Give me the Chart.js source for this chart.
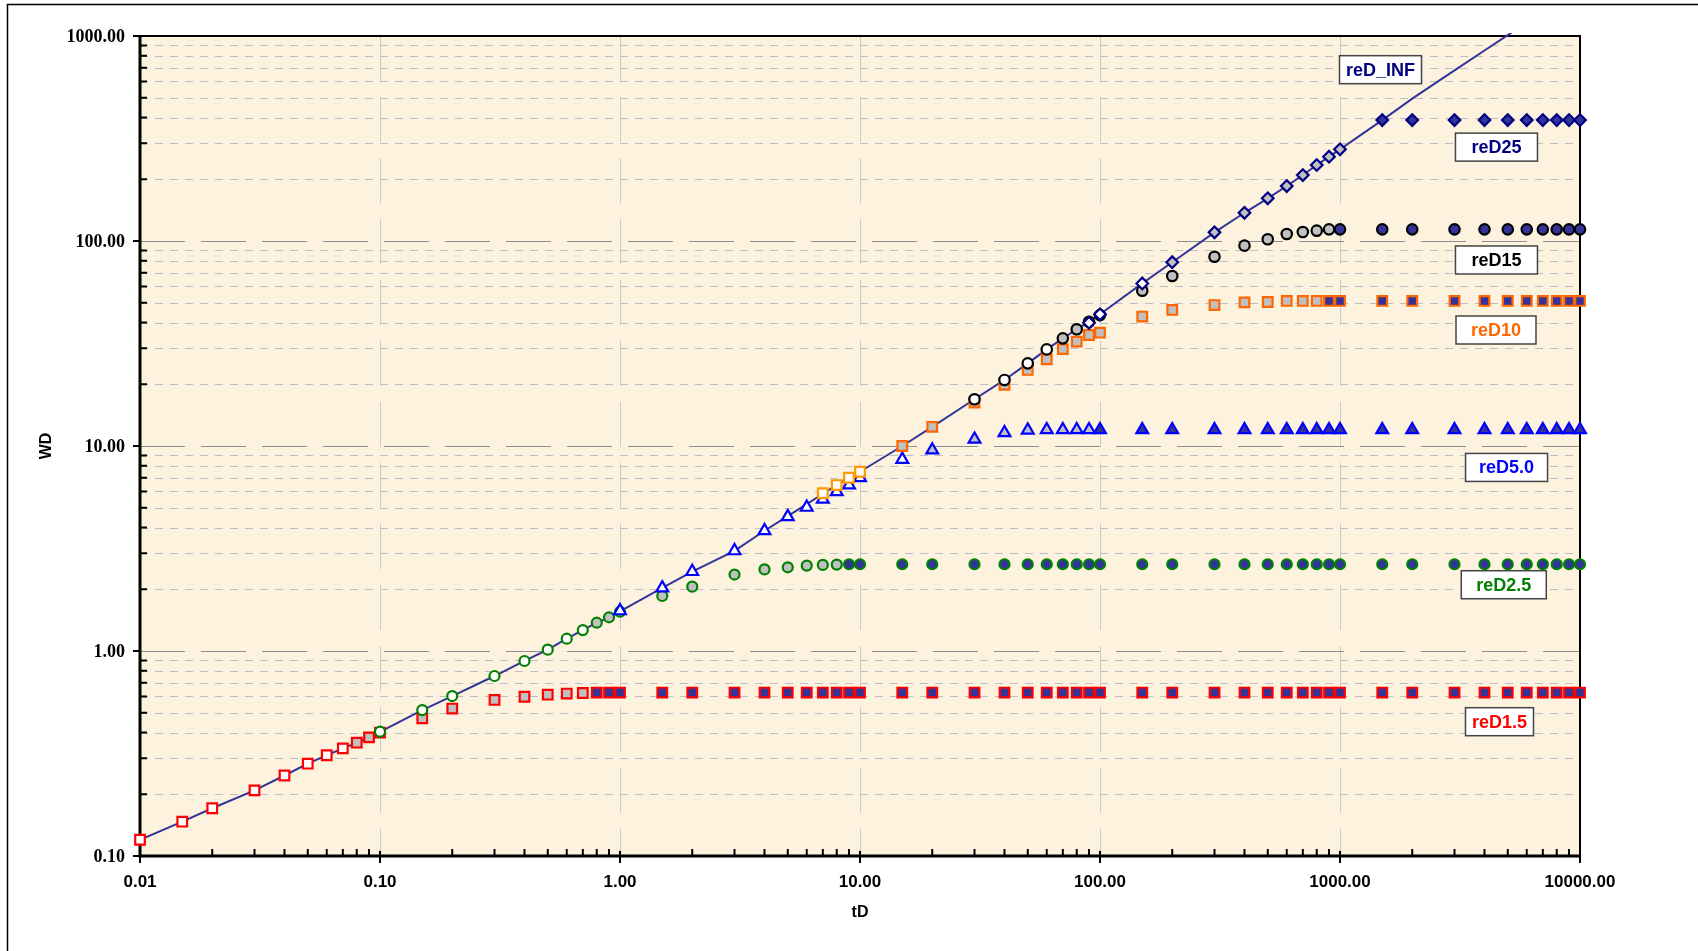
<!DOCTYPE html>
<html>
<head>
<meta charset="utf-8">
<script src="https://cdn.jsdelivr.net/npm/chart.js@4.4.1/dist/chart.umd.min.js"></script>
<style>
  html, body { margin: 0; padding: 0; background: #fff; }
  #wrap { width: 1698px; height: 951px; }
</style>
</head>
<body>
<div id="wrap"><canvas id="myChart" width="1698" height="951"></canvas></div>
<script>
// dimensionless time, shared by every series
const tD = [0.01, 0.015, 0.02, 0.03, 0.04, 0.05, 0.06, 0.07, 0.08, 0.09,
  0.1, 0.15, 0.2, 0.3, 0.4, 0.5, 0.6, 0.7, 0.8, 0.9,
  1, 1.5, 2, 3, 4, 5, 6, 7, 8, 9,
  10, 15, 20, 30, 40, 50, 60, 70, 80, 90,
  100, 150, 200, 300, 400, 500, 600, 700, 800, 900,
  1000, 1500, 2000, 3000, 4000, 5000, 6000, 7000, 8000, 9000, 10000];

// WD values (null = no point)
const wdInf = [0.12, 0.147, 0.171, 0.209, 0.247, 0.282, 0.31, 0.335, 0.357, 0.379,
  0.403, 0.515, 0.603, 0.755, 0.894, 1.015, 1.148, 1.265, 1.374, 1.46,
  1.56, 2.03, 2.44, 3.08, 3.86, 4.55, 5.2, 5.85, 6.45, 7.0,
  7.49, 10.0, 12.4, 16.9, 21.0, 25.3, 29.6, 33.5, 37.1, 40.4,
  43.9, 62.1, 78.8, 110.2, 137.3, 161.5, 185.4, 209.8, 234.8, 257.8,
  280, 389, 495, 680, 850, 1010, 1170, 1320, 1470, 1620, 1770];

const wdReD1_5 = [0.12, 0.147, 0.171, 0.209, 0.247, 0.282, 0.31, 0.335, 0.357, 0.379,
  0.40, 0.47, 0.524, 0.577, 0.598, 0.612, 0.62, 0.624, 0.627, 0.627,
  0.627, 0.627, 0.627, 0.627, 0.627, 0.627, 0.627, 0.627, 0.627, 0.627,
  0.627, 0.627, 0.627, 0.627, 0.627, 0.627, 0.627, 0.627, 0.627, 0.627,
  0.627, 0.627, 0.627, 0.627, 0.627, 0.627, 0.627, 0.627, 0.627, 0.627,
  0.627, 0.627, 0.627, 0.627, 0.627, 0.627, 0.627, 0.627, 0.627, 0.627, 0.627];

const wdReD2_5 = [null, null, null, null, null, null, null, null, null, null,
  0.404, 0.515, 0.603, 0.755, 0.894, 1.015, 1.148, 1.265, 1.374, 1.46,
  1.555, 1.855, 2.06, 2.36, 2.50, 2.56, 2.61, 2.63, 2.64, 2.65,
  2.65, 2.65, 2.65, 2.65, 2.65, 2.65, 2.65, 2.65, 2.65, 2.65,
  2.65, 2.65, 2.65, 2.65, 2.65, 2.65, 2.65, 2.65, 2.65, 2.65,
  2.65, 2.65, 2.65, 2.65, 2.65, 2.65, 2.65, 2.65, 2.65, 2.65, 2.65];

const wdReD5 = [null, null, null, null, null, null, null, null, null, null,
  null, null, null, null, null, null, null, null, null, null,
  1.57, 2.03, 2.44, 3.08, 3.86, 4.52, 5.02, 5.5, 5.98, 6.45,
  7.0, 8.6, 9.56, 10.8, 11.6, 11.95, 12.0, 12.0, 12.0, 12.0,
  12.0, 12.0, 12.0, 12.0, 12.0, 12.0, 12.0, 12.0, 12.0, 12.0,
  12.0, 12.0, 12.0, 12.0, 12.0, 12.0, 12.0, 12.0, 12.0, 12.0, 12.0];

const wdReD10 = [null, null, null, null, null, null, null, null, null, null,
  null, null, null, null, null, null, null, null, null, null,
  null, null, null, null, null, null, null, 5.88, 6.45, 7.0,
  7.49, 10.0, 12.4, 16.3, 19.9, 23.5, 26.5, 29.7, 32.3, 34.8,
  35.7, 42.8, 46.1, 48.7, 50.2, 50.4, 51, 51, 51, 51,
  51, 51, 51, 51, 51, 51, 51, 51, 51, 51, 51];

const wdReD15 = [null, null, null, null, null, null, null, null, null, null,
  null, null, null, null, null, null, null, null, null, null,
  null, null, null, null, null, null, null, null, null, null,
  null, null, null, 16.9, 21.0, 25.3, 29.6, 33.5, 37.1, 40.4,
  43.5, 57.2, 67.5, 83.8, 94.9, 101.9, 108.2, 110.6, 112.3, 114,
  114, 114, 114, 114, 114, 114, 114, 114, 114, 114, 114];

const wdReD25 = [null, null, null, null, null, null, null, null, null, null,
  null, null, null, null, null, null, null, null, null, null,
  null, null, null, null, null, null, null, null, null, null,
  null, null, null, null, null, null, null, null, null, 39.9,
  43.9, 62.1, 78.8, 110.2, 137.3, 161.5, 185.4, 209.8, 234.8, 257.8,
  280, 389, 389, 389, 389, 389, 389, 389, 389, 389, 389];

const xTicks = [0.01, 0.1, 1, 10, 100, 1000, 10000];
const yTicks = [0.1, 1, 10, 100, 1000];

// curve labels, anchored in data units
const curveLabels = [
  { text: "reD_INF", tD: 1475, wd: 685, color: "#000080", w: 82 },
  { text: "reD25", tD: 4487, wd: 287, color: "#000080", w: 82 },
  { text: "reD15", tD: 4487, wd: 80.8, color: "#000000", w: 82 },
  { text: "reD10", tD: 4467, wd: 36.8, color: "#FF6600", w: 80 },
  { text: "reD5.0", tD: 4943, wd: 7.86, color: "#0000FF", w: 82 },
  { text: "reD2.5", tD: 4813, wd: 2.105, color: "#008000", w: 85 },
  { text: "reD1.5", tD: 4619, wd: 0.452, color: "#FF0000", w: 68 }
];

const WHITE = "#FFFFFF", GRAY = "#C0C0C0", NAVY = "#333399";

function points(vals) {
  return tD.map((x, i) => vals[i] == null ? null : { x: x, y: vals[i] }).filter(p => p);
}

// marker fill goes white -> gray -> navy as tD passes the two limits
function stageFill(limits) {
  return c => {
    const x = c.raw ? c.raw.x : 0;
    return x <= limits[0] ? WHITE : x <= limits[1] ? GRAY : NAVY;
  };
}

function markerSet(label, vals, style, radius, border, limits, order) {
  return {
    label: label,
    data: points(vals),
    showLine: false,
    pointStyle: style,
    pointRadius: radius,
    pointHoverRadius: radius,
    pointBorderWidth: 2.2,
    pointBorderColor: border,
    pointBackgroundColor: stageFill(limits),
    clip: false,
    order: order
  };
}

const decor = {
  id: "decor",
  beforeDraw(chart) {
    const { ctx, chartArea: a } = chart;
    ctx.save();
    ctx.fillStyle = "#fff";
    ctx.fillRect(0, 0, chart.width, chart.height);
    ctx.strokeStyle = "#000";
    ctx.lineWidth = 1.5;
    ctx.beginPath();
    ctx.moveTo(7.5, chart.height);
    ctx.lineTo(7.5, 4.5);
    ctx.lineTo(chart.width, 4.5);
    ctx.stroke();
    ctx.fillStyle = "#FCF2DE";
    ctx.fillRect(a.left, a.top, a.right - a.left, a.bottom - a.top);
    ctx.restore();
  },
  beforeDatasetsDraw(chart) {
    const { ctx, chartArea: a, scales } = chart;
    const xs = scales.x, ys = scales.y;
    const hline = (y) => { ctx.beginPath(); ctx.moveTo(a.left, y); ctx.lineTo(a.right, y); ctx.stroke(); };
    ctx.save();

    // minor horizontal grid
    ctx.lineWidth = 1;
    ctx.setLineDash([8, 7]);
    ctx.strokeStyle = "#BEBEC8";
    for (let i = 0; i < yTicks.length - 1; i++) {
      for (let k = 2; k <= 9; k++) {
        hline(Math.round(ys.getPixelForValue(yTicks[i] * k)) + 0.5);
      }
    }
    // major grid
    ctx.setLineDash([45, 16]);
    ctx.strokeStyle = "#CACACA";
    xTicks.slice(1, -1).forEach(v => {
      const x = Math.round(xs.getPixelForValue(v)) + 0.5;
      ctx.beginPath(); ctx.moveTo(x, a.top); ctx.lineTo(x, a.bottom); ctx.stroke();
    });
    ctx.strokeStyle = "#8E8E8E";
    yTicks.slice(1, -1).forEach(v => hline(Math.round(ys.getPixelForValue(v)) + 0.5));
    ctx.setLineDash([]);

    // plot border and axes
    ctx.strokeStyle = "#000";
    ctx.lineWidth = 2;
    ctx.beginPath();
    ctx.moveTo(a.left, a.top); ctx.lineTo(a.right, a.top); ctx.lineTo(a.right, a.bottom);
    ctx.stroke();
    ctx.lineWidth = 3;
    ctx.beginPath();
    ctx.moveTo(a.left, a.top - 1); ctx.lineTo(a.left, a.bottom); ctx.lineTo(a.right + 1, a.bottom);
    ctx.stroke();

    // tick marks
    ctx.lineWidth = 2;
    ctx.beginPath();
    yTicks.forEach((v, i) => {
      const y = ys.getPixelForValue(v);
      ctx.moveTo(a.left - 7, y); ctx.lineTo(a.left, y);
      if (i < yTicks.length - 1) {
        for (let k = 2; k <= 9; k++) {
          const ym = ys.getPixelForValue(v * k);
          ctx.moveTo(a.left, ym); ctx.lineTo(a.left + 7, ym);
        }
      }
    });
    xTicks.forEach((v, i) => {
      const x = xs.getPixelForValue(v);
      ctx.moveTo(x, a.bottom - 5); ctx.lineTo(x, a.bottom + 7);
      if (i < xTicks.length - 1) {
        for (let k = 2; k <= 9; k++) {
          const xm = xs.getPixelForValue(v * k);
          ctx.moveTo(xm, a.bottom); ctx.lineTo(xm, a.bottom - 7);
        }
      }
    });
    ctx.stroke();

    // tick labels
    ctx.fillStyle = "#000";
    ctx.font = "bold 18px 'Liberation Serif', 'Times New Roman', serif";
    ctx.textAlign = "right";
    ctx.textBaseline = "middle";
    yTicks.forEach(v => ctx.fillText(v.toFixed(2), a.left - 15, ys.getPixelForValue(v) + 1));
    ctx.font = "bold 17px 'Liberation Sans', Arial, sans-serif";
    ctx.textAlign = "center";
    xTicks.forEach(v => ctx.fillText(v.toFixed(2), xs.getPixelForValue(v), a.bottom + 26));

    // axis titles
    ctx.font = "bold 16px 'Liberation Sans', Arial, sans-serif";
    ctx.fillText("tD", (a.left + a.right) / 2, a.bottom + 57);
    ctx.translate(47, (a.top + a.bottom) / 2);
    ctx.rotate(-Math.PI / 2);
    ctx.fillText("WD", 0, 0);
    ctx.restore();
  },
  afterDatasetsDraw(chart) {
    const { ctx, scales } = chart;
    ctx.save();
    ctx.font = "bold 18px 'Liberation Sans', Arial, sans-serif";
    ctx.textAlign = "center";
    ctx.textBaseline = "middle";
    curveLabels.forEach(l => {
      const cx = scales.x.getPixelForValue(l.tD);
      const cy = scales.y.getPixelForValue(l.wd);
      const h = 28;
      ctx.fillStyle = "#fff";
      ctx.fillRect(cx - l.w / 2, cy - h / 2, l.w, h);
      ctx.strokeStyle = "#444";
      ctx.lineWidth = 1.5;
      ctx.strokeRect(cx - l.w / 2, cy - h / 2, l.w, h);
      ctx.fillStyle = l.color;
      ctx.fillText(l.text, cx, cy + 1);
    });
    ctx.restore();
  }
};

const ctx = document.getElementById("myChart").getContext("2d");

new Chart(ctx, {
  type: "scatter",
  data: {
    datasets: [
      {
        label: "reD_INF",
        data: points(wdInf),
        showLine: true,
        borderColor: "#333399",
        borderWidth: 2,
        pointRadius: 0,
        tension: 0,
        clip: { left: 0, top: 3, right: 0, bottom: 0 },
        order: 10
      },
      markerSet("reD1.5", wdReD1_5, "rect", 6.8, "#FF0000", [0.07, 0.7], 6),
      markerSet("reD2.5", wdReD2_5, "circle", 5, "#008000", [0.7, 8], 5),
      markerSet("reD5.0", wdReD5, "triangle", 6.8, "#0000FF", [15, 90], 4),
      Object.assign(markerSet("reD10", wdReD10, "rect", 6.8, "#FF6600", [10, 800], 3), {
        pointBorderColor: c => (c.raw && c.raw.x <= 10) ? "#FF9900" : "#FF6600"
      }),
      markerSet("reD15", wdReD15, "circle", 5.2, "#000000", [60, 900], 2),
      markerSet("reD25", wdReD25, "rectRot", 5.8, "#000080", [150, 1000], 1)
    ]
  },
  options: {
    responsive: false,
    animation: false,
    devicePixelRatio: 1,
    layout: { padding: { left: 140, top: 36, right: 118, bottom: 95 } },
    plugins: { legend: { display: false }, tooltip: { enabled: false } },
    scales: {
      x: { type: "logarithmic", min: 0.01, max: 10000, display: false },
      y: { type: "logarithmic", min: 0.1, max: 1000, display: false }
    }
  },
  plugins: [decor]
});
</script>
</body>
</html>
